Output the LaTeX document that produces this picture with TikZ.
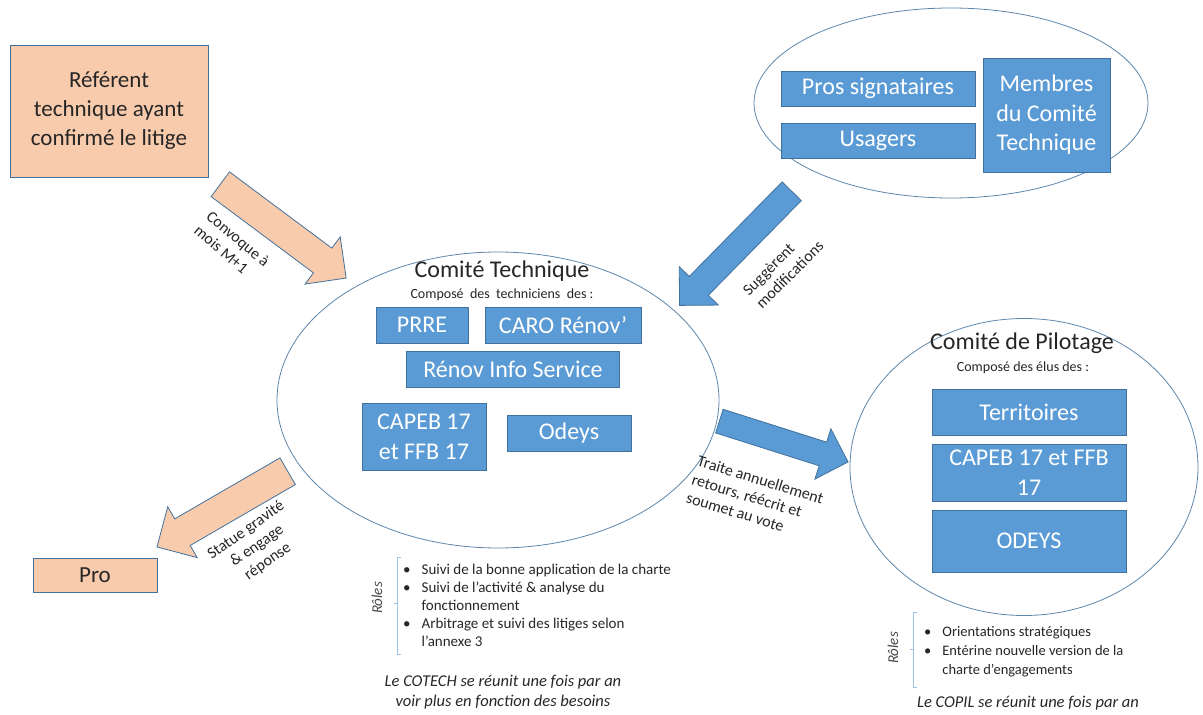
\documentclass[tikz,border=0pt]{standalone}
\usepackage{fontspec}
\setmainfont{Carlito}
\usetikzlibrary{shapes.geometric,shapes.arrows}

\definecolor{bleu}{HTML}{5B9BD5}
\definecolor{bord}{HTML}{41719C}
\definecolor{peche}{HTML}{F8CBAD}
\definecolor{accolade}{HTML}{9DC3E6}
\definecolor{gristexte}{HTML}{262626}

\newcommand{\fs}[2]{\fontsize{#1}{#2}\selectfont}

\begin{document}
\begin{tikzpicture}[x=1pt, y=-1pt,
        text=gristexte,
        bulle/.style={ellipse, draw=bord!85, line width=0.8pt, inner sep=0pt},
        bloc/.style={rectangle, draw=bord, fill=bleu, text=white, line width=0.8pt,
            inner sep=0pt, align=center, font=\fs{24}{29.5}},
        blocpeche/.style={bloc, fill=peche, text=gristexte, font=\fs{23}{29}},
        flechebleue/.style={single arrow, draw=bord, fill=bleu, line width=0.8pt,
            anchor=tail, inner xsep=0pt, inner ysep=13pt, minimum width=0pt,
            single arrow head extend=14pt},
        flechepeche/.style={flechebleue, fill=peche, inner ysep=15pt},
        titre/.style={font=\fs{24}{29}, inner sep=0pt},
        soustitre/.style={font=\fs{14}{17}, inner sep=0pt},
        etiq/.style={font=\fs{16}{19}, inner sep=0pt},
        role/.style={font=\itshape\fs{15}{18}, text=gristexte!85, inner sep=0pt},
        liste/.style={font=\fs{15}{18}, inner sep=0pt, anchor=north west},
        reunion/.style={font=\itshape\fs{16.5}{19.5}, inner sep=0pt, align=center}
        ]
    \useasboundingbox (0,0) rectangle (1203,715);

    % Bulles
    \node[bulle, minimum width=442pt, minimum height=296pt] (cotech) at (498,400) {};
    \node[bulle, minimum width=394pt, minimum height=190pt] (membres) at (951,103) {};
    \node[bulle, minimum width=348pt, minimum height=297pt] (copil) at (1024,467) {};

    % Titres
    \node[titre] (tcotech) at (502,271) {Comité Technique};
    \node[soustitre] (scotech) at (502,295) {Composé \ des \ techniciens \ des :};
    \node[titre] (tcopil) at (1022,343) {Comité de Pilotage};
    \node[soustitre] (scopil) at (1023,368) {Composé des élus des :};

    % Blocs
    \node[blocpeche, minimum width=198pt, minimum height=132pt] (referent) at (109,111)
        {Référent\\technique ayant\\confirmé le litige};
    \node[blocpeche, minimum width=124pt, minimum height=34pt] (pro) at (95,575) {Pro};

    \node[bloc, minimum width=92pt, minimum height=36pt] (prre) at (422,325) {PRRE};
    \node[bloc, minimum width=156pt, minimum height=36pt] (caro) at (563,325) {CARO Rénov’};
    \node[bloc, minimum width=213pt, minimum height=36pt] (ris) at (513,369.5) {Rénov Info Service};
    \node[bloc, minimum width=124pt, minimum height=67pt] (capebct) at (424,437) {CAPEB 17\\et FFB 17};
    \node[bloc, minimum width=124pt, minimum height=36pt] (odeysct) at (569,433) {Odeys};

    \node[bloc, minimum width=194pt, minimum height=35pt] (pros) at (878,88.5) {Pros signataires};
    \node[bloc, minimum width=194pt, minimum height=35pt] (usagers) at (878,140.5) {Usagers};
    \node[bloc, minimum width=127pt, minimum height=114pt] (membresct) at (1046.5,115)
        {Membres\\du Comité\\Technique};

    \node[bloc, minimum width=194pt, minimum height=46pt] (territoires) at (1029,412) {Territoires};
    \node[bloc, minimum width=194pt, minimum height=57pt] (capebcp) at (1029,472.5) {CAPEB 17 et FFB\\17};
    \node[bloc, minimum width=194pt, minimum height=62pt] (odeyscp) at (1029,541) {ODEYS};

    % Flèches
    \node[flechepeche, rotate=-36.7, minimum height=157pt] (fconv) at (220,184) {};
    \node[flechebleue, rotate=225.5, minimum height=160pt] (fsugg) at (792,191) {};
    \node[flechebleue, rotate=-17.6, inner ysep=12pt, minimum height=135pt] (ftrait) at (719,421) {};
    \node[flechepeche, rotate=210.1, minimum height=151pt] (fstat) at (288,471) {};

    \node[etiq, rotate=-40, align=left] (lconv) at (232,246) {Convoque à\\mois M+1};
    \node[etiq, rotate=45, align=left] (lsugg) at (783,268) {Suggèrent\\modifications};
    \node[etiq, rotate=-17, align=left] (ltrait) at (755,498) {Traite annuellement\\retours, réécrit et\\soumet au vote};
    \node[etiq, rotate=35, align=center] (lstat) at (257,546) {Statue gravité\\\& engage\\réponse};

    % Rôles
    \node[role, rotate=90] (rct) at (377,598) {Rôles};
    \node[liste] (listect) at (403,562) {%
        \begin{tabular}{@{}l@{\hspace{11pt}}l@{}}
            \textbullet & Suivi de la bonne application de la charte\\
            \textbullet & Suivi de l’activité \& analyse du\\
                        & fonctionnement\\
            \textbullet & Arbitrage et suivi des litiges selon\\
                        & l’annexe 3
        \end{tabular}};
    \draw[accolade, line width=0.9pt] (401,557) -- (397,557) -- (397,654) -- (401,654)
                                       (397,603) -- (394,603);

    \node[role, rotate=90] (rcp) at (893,648) {Rôles};
    \node[liste, font=\fs{14.5}{19}] (listecp) at (924,623) {%
        \begin{tabular}{@{}l@{\hspace{11pt}}l@{}}
            \textbullet & Orientations stratégiques\\
            \textbullet & Entérine nouvelle version de la\\
                        & charte d’engagements
        \end{tabular}};
    \draw[accolade, line width=0.9pt] (917,612) -- (913,612) -- (913,687) -- (917,687)
                                       (913,649) -- (910,649);

    \node[reunion] (reunionct) at (503,692) {Le COTECH se réunit une fois par an\\voir plus en fonction des besoins};
    \node[reunion] (reunioncp) at (1028,703) {Le COPIL se réunit une fois par an};

\end{tikzpicture}
\end{document}
